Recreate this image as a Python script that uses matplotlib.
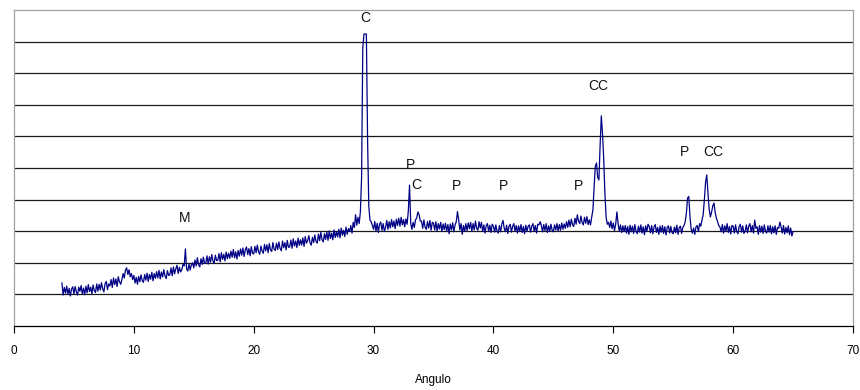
import numpy as np
import matplotlib as mpl
import matplotlib.pyplot as plt

mpl.rcParams.update({
    'font.family': ['Liberation Sans', 'DejaVu Sans'],
    'axes.linewidth': 0.9,
})

# diffractogram, one row per degree (step 0.1), starting at 4.0
start_angle = 4.0
step = 0.1
counts_rows = [
    [136, 98, 122, 104, 126, 100, 119, 95, 117, 124],  # 4
    [102, 125, 108, 98, 123, 110, 128, 101, 120, 99],
    [126, 105, 131, 109, 123, 102, 130, 112, 106, 133],
    [110, 132, 114, 137, 118, 108, 134, 141, 115, 133],
    [127, 147, 122, 152, 131, 149, 125, 156, 140, 132],
    [146, 166, 152, 177, 184, 163, 178, 156, 166, 147],
    [160, 136, 154, 132, 157, 140, 162, 143, 138, 163],  # 10
    [145, 167, 141, 163, 148, 170, 143, 166, 151, 172],
    [152, 176, 149, 171, 155, 178, 158, 150, 175, 160],
    [162, 184, 159, 187, 165, 181, 192, 166, 186, 171],
    [178, 195, 190, 244, 181, 174, 196, 177, 194, 200],
    [184, 209, 190, 216, 194, 187, 213, 195, 218, 198],
    [199, 222, 196, 219, 202, 226, 206, 198, 224, 207],
    [208, 229, 203, 232, 211, 227, 206, 234, 213, 230],
    [214, 237, 218, 242, 216, 235, 212, 239, 221, 244],
    [224, 247, 220, 241, 250, 226, 245, 222, 251, 230],
    [228, 252, 232, 256, 235, 227, 253, 237, 230, 258],  # 20
    [238, 257, 232, 261, 241, 236, 264, 243, 239, 262],
    [242, 266, 245, 238, 269, 248, 264, 241, 271, 249],
    [250, 272, 246, 276, 253, 269, 248, 278, 255, 273],
    [256, 279, 252, 283, 262, 270, 286, 263, 256, 281],
    [264, 288, 268, 262, 291, 270, 296, 273, 266, 292],
    [274, 297, 271, 301, 277, 294, 273, 304, 280, 298],
    [282, 306, 279, 310, 287, 303, 283, 313, 290, 308],
    [299, 318, 294, 328, 312, 352, 319, 344, 324, 362],
    [470, 880, 924, 924, 924, 590, 380, 335, 330, 318],
    [306, 331, 300, 325, 296, 322, 329, 303, 324, 299],  # 30
    [312, 334, 306, 330, 310, 337, 314, 332, 308, 338],
    [318, 341, 316, 344, 320, 337, 314, 339, 322, 365],
    [446, 324, 306, 328, 312, 336, 342, 361, 352, 332],
    [332, 309, 336, 312, 306, 331, 310, 334, 303, 328],
    [326, 304, 330, 300, 324, 307, 328, 299, 323, 305],
    [325, 300, 321, 292, 323, 304, 327, 298, 320, 330],
    [362, 336, 304, 324, 290, 318, 299, 324, 302, 326],
    [308, 328, 300, 324, 304, 332, 309, 303, 330, 310],
    [328, 299, 320, 294, 318, 324, 300, 319, 296, 322],
    [316, 297, 320, 300, 294, 318, 298, 322, 334, 309],  # 40
    [299, 319, 293, 316, 322, 297, 315, 324, 300, 318],
    [294, 317, 299, 321, 296, 315, 292, 319, 300, 316],
    [320, 297, 316, 324, 299, 318, 294, 322, 320, 330],
    [318, 298, 321, 302, 324, 296, 317, 300, 322, 303],
    [298, 320, 304, 324, 300, 321, 303, 326, 306, 323],
    [309, 330, 312, 335, 314, 338, 320, 315, 341, 322],
    [352, 332, 324, 348, 327, 320, 344, 325, 346, 321],
    [336, 320, 345, 367, 440, 505, 516, 470, 462, 570],
    [665, 610, 530, 421, 345, 322, 328, 312, 332, 308],
    [326, 302, 322, 361, 324, 300, 320, 296, 317, 299],  # 50
    [318, 294, 315, 290, 319, 298, 316, 293, 321, 300],
    [292, 316, 297, 320, 294, 314, 289, 317, 299, 322],
    [315, 295, 318, 292, 313, 321, 296, 312, 290, 316],
    [297, 318, 293, 314, 288, 312, 317, 294, 315, 296],
    [292, 313, 295, 319, 290, 311, 316, 293, 312, 318],
    [330, 358, 405, 410, 345, 306, 294, 310, 290, 314],
    [318, 299, 324, 316, 335, 352, 400, 455, 478, 421],
    [370, 345, 360, 380, 389, 360, 342, 330, 318, 313],
    [298, 321, 294, 317, 300, 324, 296, 315, 291, 318],
    [316, 294, 320, 299, 292, 315, 322, 297, 317, 293],  # 60
    [300, 320, 295, 316, 324, 298, 318, 294, 335, 309],
    [314, 290, 318, 297, 316, 293, 320, 299, 294, 317],
    [297, 318, 292, 314, 295, 317, 290, 312, 309, 329],
    [314, 294, 318, 291, 312, 295, 317, 289, 310, 285],
]
last_count = 298  # 65.0

# peak labels
label_text = ['C', 'P', 'C', 'P', 'P', 'P', 'CC', 'P', 'CC', 'M']
label_x = [29.3, 33.05, 33.6, 36.9, 40.8, 47.1, 48.75, 55.9, 58.3, 14.2]
label_y = [975, 510, 446, 443, 443, 443, 759, 550, 550, 342]

counts = np.array([c for row in counts_rows for c in row] + [last_count])
angle = start_angle + step * np.arange(len(counts))

fig = plt.figure(figsize=(8.6, 3.9), dpi=100)
ax = fig.add_axes([14 / 860, 64 / 390, 839 / 860, 316 / 390])

ax.plot(angle, counts, color='#000085', lw=0.9)

for t, x, y in zip(label_text, label_x, label_y):
    ax.text(x, y, t, ha='center', va='center', fontsize=10, color='#111111')

ax.set_xlim(0, 70)
ax.set_ylim(0, 1000)
ax.set_xticks(np.arange(0, 71, 10))
ax.set_yticks(np.arange(100, 1000, 100))
ax.yaxis.grid(True, color='#1a1a1a', lw=0.9)
ax.tick_params(axis='y', left=False, labelleft=False)
ax.tick_params(axis='x', direction='out', length=5, width=0.8, pad=9,
               labelsize=8.5)
for lab in ax.get_xticklabels():
    lab.set_family(['Liberation Sans Narrow', 'Liberation Sans'])

for side in ['top', 'left', 'right']:
    ax.spines[side].set_color('#a0a0a0')
ax.spines['bottom'].set_color('#000000')

ax.set_xlabel('Angulo', fontsize=8.5, labelpad=12,
              family=['Liberation Sans Narrow', 'Liberation Sans'])

fig.savefig('out.png', dpi=100)
